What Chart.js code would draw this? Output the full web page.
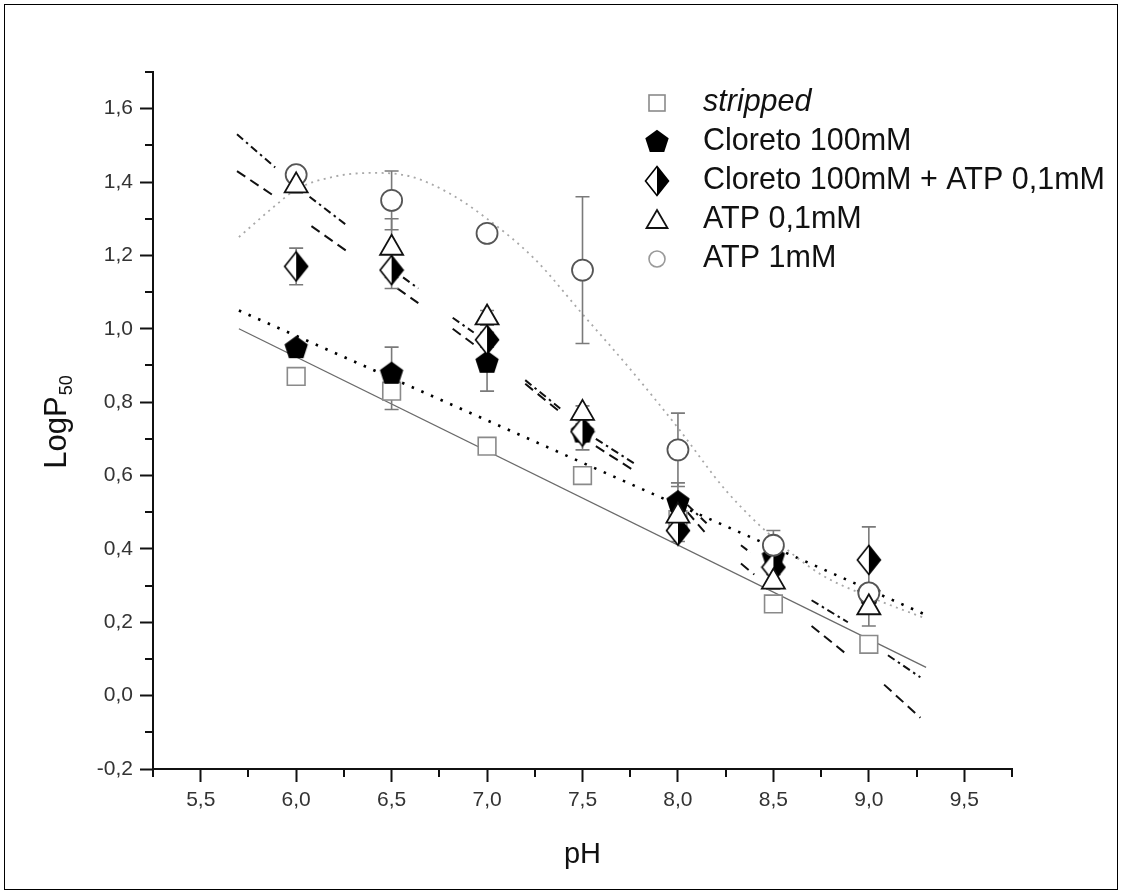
<!DOCTYPE html>
<html><head><meta charset="utf-8">
<script src="https://cdn.jsdelivr.net/npm/chart.js@4.4.1/dist/chart.umd.min.js"></script>
<style>html,body{margin:0;padding:0;background:#fff;}canvas{display:block;}</style>
</head><body>
<canvas id="c" width="1122" height="894"></canvas>
<script>
// ---------- data ----------
const phValues = [6.0, 6.5, 7.0, 7.5, 8.0, 8.5, 9.0];
const strippedY   = [0.87, 0.83, 0.68, 0.60, 0.48, 0.25, 0.14];
const strippedErr = [0.01, 0.05, 0.01, 0.02, 0.02, 0.02, 0.02];
const cloretoY    = [0.95, 0.88, 0.91, 0.72, 0.53, 0.38, 0.28];
const cloretoErr  = [0.01, 0.07, 0.08, 0.02, 0.05, 0.02, 0.01];
const cloretoAtpY   = [1.17, 1.16, 0.97, 0.72, 0.45, 0.35, 0.37];
const cloretoAtpErr = [0.05, 0.05, 0.02, 0.05, 0.03, 0.02, 0.09];
const atp01Y   = [1.39, 1.22, 1.03, 0.77, 0.49, 0.31, 0.24];
const atp01Err = [0.02, 0.08, 0.02, 0.02, 0.03, 0.02, 0.05];
const atp1Y    = [1.42, 1.35, 1.26, 1.16, 0.67, 0.41, 0.28];
const atp1Err  = [0.02, 0.08, 0.02, 0.20, 0.10, 0.04, 0.02];

const seriesLabels = ['stripped', 'Cloreto 100mM', 'Cloreto 100mM + ATP 0,1mM', 'ATP 0,1mM', 'ATP 1mM'];

// fitted curves
const strippedFitX = [5.7, 9.3];
const strippedFitY = [1.00, 0.077];
const cloretoFitX  = [5.7, 9.3];
const cloretoFitY  = [1.05, 0.22];
const atp1FitX = [5.7, 5.9, 6.0, 6.2, 6.4, 6.6, 6.8, 7.0, 7.25, 7.5, 7.75, 8.0, 8.25, 8.5, 8.75, 9.0, 9.3];
const atp1FitY = [1.25, 1.34, 1.38, 1.415, 1.425, 1.415, 1.37, 1.30, 1.19, 1.04, 0.89, 0.73, 0.56, 0.43, 0.33, 0.27, 0.21];
// short local line segments (null = gap)
const segUpperX = [5.69, 5.89, null, 6.07, 6.27, null, 6.56, 6.64, null, 6.82, 6.93, null, 7.20, 7.39, null, 7.57, 7.78, null, 8.05, 8.15, null, 8.33, 8.38, null, 8.70, 8.89, null, 9.10, 9.27];
const segUpperY = [1.53, 1.44, null, 1.36, 1.28, null, 1.14, 1.11, null, 1.03, 0.99, null, 0.86, 0.78, null, 0.70, 0.63, null, 0.52, 0.47, null, 0.41, 0.39, null, 0.26, 0.20, null, 0.11, 0.05];
const segLowerX = [5.69, 5.89, null, 6.08, 6.27, null, 6.53, 6.64, null, 6.82, 6.95, null, 7.20, 7.39, null, 7.57, 7.78, null, 8.05, 8.15, null, 8.33, 8.40, null, 8.70, 8.89, null, 9.08, 9.27];
const segLowerY = [1.43, 1.36, null, 1.28, 1.21, null, 1.11, 1.07, null, 1.00, 0.95, null, 0.85, 0.77, null, 0.68, 0.61, null, 0.50, 0.44, null, 0.36, 0.33, null, 0.19, 0.11, null, 0.03, -0.06];

// axis ticks
const xTickVals   = [5.5, 6.0, 6.5, 7.0, 7.5, 8.0, 8.5, 9.0, 9.5];
const xTickLabels = ['5,5', '6,0', '6,5', '7,0', '7,5', '8,0', '8,5', '9,0', '9,5'];
const xMinorVals  = [5.25, 5.75, 6.25, 6.75, 7.25, 7.75, 8.25, 8.75, 9.25, 9.75];
const yTickVals   = [-0.2, 0.0, 0.2, 0.4, 0.6, 0.8, 1.0, 1.2, 1.4, 1.6];
const yTickLabels = ['-0,2', '0,0', '0,2', '0,4', '0,6', '0,8', '1,0', '1,2', '1,4', '1,6'];
const yMinorVals  = [-0.1, 0.1, 0.3, 0.5, 0.7, 0.9, 1.1, 1.3, 1.5, 1.7];
const xMin = 5.25, xMax = 9.75, yMin = -0.2, yMax = 1.7;

// ---------- marker glyphs ----------
const FONT = '"Liberation Sans", Arial, Helvetica, sans-serif';
function makePentagon() {
  const c = document.createElement('canvas'); c.width = 26; c.height = 26;
  const g = c.getContext('2d'); const r = 12.3, cx = 13, cy = 14;
  g.beginPath();
  for (let k = 0; k < 5; k++) {
    const a = -Math.PI / 2 + k * 2 * Math.PI / 5;
    const px = cx + r * Math.cos(a), py = cy + r * Math.sin(a);
    k ? g.lineTo(px, py) : g.moveTo(px, py);
  }
  g.closePath(); g.fillStyle = '#000'; g.fill();
  return c;
}
function makeHalfDiamond() {
  const c = document.createElement('canvas'); c.width = 26; c.height = 32;
  const g = c.getContext('2d'); const cx = 13, cy = 16, hw = 11.5, hh = 14.5;
  g.beginPath(); g.moveTo(cx, cy - hh); g.lineTo(cx + hw, cy); g.lineTo(cx, cy + hh); g.lineTo(cx - hw, cy); g.closePath();
  g.fillStyle = '#fff'; g.fill();
  g.beginPath(); g.moveTo(cx, cy - hh); g.lineTo(cx + hw, cy); g.lineTo(cx, cy + hh); g.closePath();
  g.fillStyle = '#000'; g.fill();
  g.beginPath(); g.moveTo(cx, cy - hh); g.lineTo(cx + hw, cy); g.lineTo(cx, cy + hh); g.lineTo(cx - hw, cy); g.closePath();
  g.lineWidth = 1.6; g.strokeStyle = '#000'; g.stroke();
  return c;
}
const pentagonImg = makePentagon();
const halfDiamondImg = makeHalfDiamond();

const pts = (xs, ys) => xs.map((x, i) => ({ x: x === null ? xs[i - 1] : x, y: ys[i] }));

// order: lower number = drawn on top
const markerSets = [
  { label: seriesLabels[0], data: pts(phValues, strippedY), err: strippedErr, pointStyle: 'rect', pointRadius: 12.5,
    borderColor: '#8a8a8a', backgroundColor: '#fff', borderWidth: 1.6, order: 4, errHook: true },
  { label: seriesLabels[1], data: pts(phValues, cloretoY), err: cloretoErr, pointStyle: pentagonImg, pointRadius: 12,
    borderColor: '#000', backgroundColor: '#000', order: 3 },
  { label: seriesLabels[2], data: pts(phValues, cloretoAtpY), err: cloretoAtpErr, pointStyle: halfDiamondImg, pointRadius: 12,
    borderColor: '#000', backgroundColor: '#000', order: 2 },
  { label: seriesLabels[3], data: pts(phValues, atp01Y), err: atp01Err, pointStyle: 'triangle', pointRadius: 13.3,
    borderColor: '#111', backgroundColor: '#fff', borderWidth: 1.8, order: 0 },
  { label: seriesLabels[4], data: pts(phValues, atp1Y), err: atp1Err, pointStyle: 'circle', pointRadius: 10.5,
    borderColor: '#555', backgroundColor: '#fff', borderWidth: 1.8, order: 1 }
];
markerSets.forEach(d => { d.showLine = false; d.pointHoverRadius = d.pointRadius; });

const lineBase = { showLine: true, pointRadius: 0, pointHoverRadius: 0, fill: false, spanGaps: false };
const fitSets = [
  Object.assign({ label: 'fit stripped', data: pts(strippedFitX, strippedFitY), borderColor: '#6a6a6a', borderWidth: 1.3, order: 14 }, lineBase),
  Object.assign({ label: 'fit cloreto', data: pts(cloretoFitX, cloretoFitY), borderColor: '#000', borderWidth: 2.6, borderDash: [2.5, 8], order: 13 }, lineBase),
  Object.assign({ label: 'fit atp1', data: pts(atp1FitX, atp1FitY), borderColor: '#a8a8a8', borderWidth: 1.8, borderDash: [2, 4.5], cubicInterpolationMode: 'monotone', order: 12 }, lineBase),
  Object.assign({ label: 'seg upper', data: pts(segUpperX, segUpperY), borderColor: '#111', borderWidth: 2, borderDash: [8, 4, 2.5, 4], order: 11 }, lineBase),
  Object.assign({ label: 'seg lower', data: pts(segLowerX, segLowerY), borderColor: '#111', borderWidth: 2, borderDash: [10, 6], order: 10 }, lineBase)
];

// ---------- plugins ----------
const errorBars = {
  id: 'errorBars',
  beforeDatasetDraw(chart, args) {
    const ds = chart.data.datasets[args.index];
    if (!ds.errHook) return;
    const ctx = chart.ctx, xs = chart.scales.x, ys = chart.scales.y;
    ctx.save();
    ctx.strokeStyle = '#7a7a7a'; ctx.lineWidth = 1.6;
    markerSets.forEach(m => {
      m.data.forEach((p, i) => {
        const e = m.err[i];
        const px = xs.getPixelForValue(p.x);
        const y1 = ys.getPixelForValue(p.y + e), y2 = ys.getPixelForValue(p.y - e);
        ctx.beginPath();
        ctx.moveTo(px, y1); ctx.lineTo(px, y2);
        ctx.moveTo(px - 7, y1); ctx.lineTo(px + 7, y1);
        ctx.moveTo(px - 7, y2); ctx.lineTo(px + 7, y2);
        ctx.stroke();
      });
    });
    ctx.restore();
  }
};

const decorations = {
  id: 'decorations',
  afterDraw(chart) {
    const ctx = chart.ctx, xs = chart.scales.x, ys = chart.scales.y, a = chart.chartArea;
    ctx.save();
    // minor ticks
    ctx.strokeStyle = '#111'; ctx.lineWidth = 2;
    ctx.beginPath();
    xMinorVals.forEach(v => { const px = Math.round(xs.getPixelForValue(v)); ctx.moveTo(px, a.bottom); ctx.lineTo(px, a.bottom + 8); });
    yMinorVals.forEach(v => { const py = Math.round(ys.getPixelForValue(v)); ctx.moveTo(a.left, py); ctx.lineTo(a.left - 8, py); });
    ctx.stroke();
    // axis titles
    ctx.fillStyle = '#111';
    ctx.font = '29px ' + FONT; ctx.textAlign = 'center'; ctx.textBaseline = 'middle';
    ctx.fillText('pH', (a.left + a.right) / 2, 855);
    ctx.save();
    ctx.translate(66, (a.top + a.bottom) / 2 + 2);
    ctx.rotate(-Math.PI / 2);
    ctx.textBaseline = 'alphabetic'; ctx.textAlign = 'left';
    ctx.font = '31px ' + FONT;
    const w1 = ctx.measureText('LogP').width;
    ctx.font = '18px ' + FONT;
    const w2 = ctx.measureText('50').width;
    const x0 = -(w1 + w2) / 2;
    ctx.font = '31px ' + FONT; ctx.fillText('LogP', x0, 0);
    ctx.font = '18px ' + FONT; ctx.fillText('50', x0 + w1 + 1, 6);
    ctx.restore();
    // legend
    const lx = 657, tx = 703, rows = [103, 142, 181, 220, 259];
    markerSets.forEach((m, i) => {
      const y = rows[i];
      ctx.save();
      if (i === 0) { ctx.strokeStyle = '#8a8a8a'; ctx.lineWidth = 1.6; ctx.fillStyle = '#fff'; ctx.fillRect(lx - 8, y - 8, 16, 16); ctx.strokeRect(lx - 8, y - 8, 16, 16); }
      else if (i === 1) { ctx.drawImage(pentagonImg, lx - 13, y - 14); }
      else if (i === 2) { ctx.drawImage(halfDiamondImg, lx - 13, y - 16); }
      else if (i === 3) { ctx.strokeStyle = '#111'; ctx.lineWidth = 1.8; ctx.beginPath(); ctx.moveTo(lx, y - 10); ctx.lineTo(lx + 10.5, y + 8); ctx.lineTo(lx - 10.5, y + 8); ctx.closePath(); ctx.stroke(); }
      else { ctx.strokeStyle = '#999'; ctx.lineWidth = 1.6; ctx.beginPath(); ctx.arc(lx, y, 8, 0, Math.PI * 2); ctx.stroke(); }
      ctx.restore();
      ctx.fillStyle = '#111'; ctx.textAlign = 'left'; ctx.textBaseline = 'middle';
      ctx.font = (i === 0 ? 'italic ' : '') + '30.5px ' + FONT;
      ctx.fillText(m.label, tx, y);
    });
    // outer frame
    ctx.strokeStyle = '#000'; ctx.lineWidth = 1;
    ctx.strokeRect(4.5, 4.5, 1113, 885);
    ctx.restore();
  }
};

new Chart(document.getElementById('c'), {
  type: 'scatter',
  data: { datasets: markerSets.concat(fitSets) },
  options: {
    responsive: false, animation: false, devicePixelRatio: 1,
    layout: { padding: { left: 0, top: 72, right: 110, bottom: 0 } },
    plugins: { legend: { display: false }, tooltip: { enabled: false } },
    scales: {
      x: {
        type: 'linear', min: xMin, max: xMax,
        afterFit: s => { s.height = 125; },
        afterBuildTicks: s => { s.ticks = xTickVals.map(v => ({ value: v })); },
        ticks: { callback: (v, i) => xTickLabels[i], font: { family: FONT, size: 21 }, color: '#333', padding: 6, maxRotation: 0, autoSkip: false },
        grid: { drawOnChartArea: false, drawTicks: true, tickLength: 13, tickColor: '#111', tickWidth: 2 },
        border: { display: true, color: '#111', width: 2 }
      },
      y: {
        type: 'linear', min: yMin, max: yMax,
        afterFit: s => { s.width = 153; },
        afterBuildTicks: s => { s.ticks = yTickVals.map(v => ({ value: v })); },
        ticks: { callback: (v, i) => yTickLabels[i], font: { family: FONT, size: 21 }, color: '#333', padding: 7, autoSkip: false },
        grid: { drawOnChartArea: false, drawTicks: true, tickLength: 13, tickColor: '#111', tickWidth: 2 },
        border: { display: true, color: '#111', width: 2 }
      }
    }
  },
  plugins: [errorBars, decorations]
});
</script>
</body></html>
